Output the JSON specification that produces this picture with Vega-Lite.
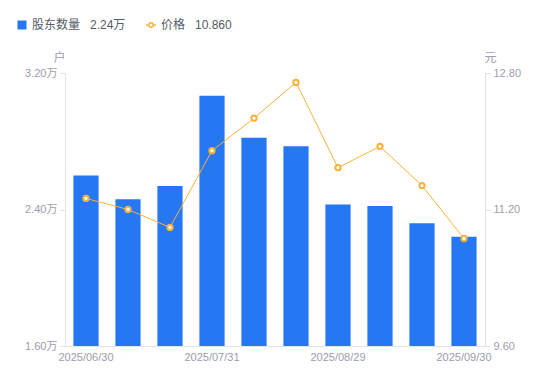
{
  "$schema": "https://vega.github.io/schema/vega-lite/v6.json",
  "width": 420,
  "height": 273,
  "autosize": "none",
  "padding": {"left": 65, "top": 73, "right": 65, "bottom": 35},
  "config": {
    "font": "'Liberation Sans', 'Noto Sans CJK SC', sans-serif",
    "view": {"stroke": null},
    "axis": {
      "grid": false,
      "domainColor": "#e2e3e6",
      "tickColor": "#e2e3e6",
      "labelColor": "#9b9dab",
      "labelFontSize": 11,
      "titleColor": "#9b9dab",
      "titleFontSize": 12,
      "titleFontWeight": "normal"
    }
  },
  "data": {
    "values": [
      {"date": "2025/06/30", "holders": 26000, "price": 11.33},
      {"date": "2025/07/10", "holders": 24600, "price": 11.20},
      {"date": "2025/07/20", "holders": 25380, "price": 10.99},
      {"date": "2025/07/31", "holders": 30670, "price": 11.89},
      {"date": "2025/08/10", "holders": 28200, "price": 12.27},
      {"date": "2025/08/20", "holders": 27700, "price": 12.69},
      {"date": "2025/08/29", "holders": 24300, "price": 11.69},
      {"date": "2025/09/10", "holders": 24200, "price": 11.94},
      {"date": "2025/09/19", "holders": 23200, "price": 11.48},
      {"date": "2025/09/30", "holders": 22400, "price": 10.86}
    ]
  },
  "encoding": {
    "x": {
      "field": "date",
      "type": "ordinal",
      "sort": null,
      "scale": {"paddingInner": 0.4, "paddingOuter": 0.2},
      "axis": {
        "title": null,
        "labelAngle": 0,
        "ticks": false,
        "labelPadding": 5,
        "values": ["2025/06/30", "2025/07/31", "2025/08/29", "2025/09/30"]
      }
    }
  },
  "layer": [
    {
      "mark": {"type": "bar", "clip": true},
      "encoding": {
        "y": {
          "field": "holders",
          "type": "quantitative",
          "scale": {"domain": [16000, 32000], "nice": false, "zero": false},
          "axis": {
            "title": "户",
            "titleAngle": 0,
            "titleX": -6,
            "titleY": -16,
            "titleAlign": "center",
            "titleBaseline": "middle",
            "values": [16000, 24000, 32000],
            "labelExpr": "format(datum.value/10000, '.2f') + '万'",
            "tickSize": 5,
            "labelPadding": 3
          }
        },
        "fill": {
          "datum": "股东数量",
          "scale": {"range": ["#2577F2"]},
          "legend": {
            "orient": "none",
            "legendX": -49,
            "legendY": -54,
            "title": null,
            "symbolType": "square",
            "symbolSize": 81,
            "labelFontSize": 12,
            "labelColor": "#555a66",
            "labelExpr": "datum.label + '\u00a0\u00a0\u00a0' + '2.24万'"
          }
        }
      }
    },
    {
      "mark": {
        "type": "line",
        "strokeWidth": 1,
        "point": {"filled": false, "fill": "white", "size": 28, "strokeWidth": 2}
      },
      "encoding": {
        "y": {
          "field": "price",
          "type": "quantitative",
          "scale": {"domain": [9.6, 12.8], "nice": false, "zero": false},
          "axis": {
            "orient": "right",
            "title": "元",
            "titleAngle": 0,
            "titleX": 5,
            "titleY": -16,
            "titleAlign": "center",
            "titleBaseline": "middle",
            "values": [9.6, 11.2, 12.8],
            "format": ".2f",
            "tickSize": 5,
            "labelPadding": 3
          }
        },
        "stroke": {
          "datum": "价格",
          "scale": {"range": ["#F7B23B"]},
          "legend": {
            "orient": "none",
            "legendX": 80,
            "legendY": -54,
            "title": null,
            "symbolType": "M-1,0L-0.45,0M0.45,0L1,0M0.45,0A0.45,0.45,0,1,1,-0.45,0A0.45,0.45,0,1,1,0.45,0",
            "symbolSize": 100,
            "symbolStrokeWidth": 1.5,
            "symbolFillColor": "white",
            "labelFontSize": 12,
            "labelColor": "#555a66",
            "labelExpr": "datum.label + '\u00a0\u00a0\u00a0' + '10.860'"
          }
        }
      }
    }
  ],
  "resolve": {"scale": {"y": "independent"}}
}
